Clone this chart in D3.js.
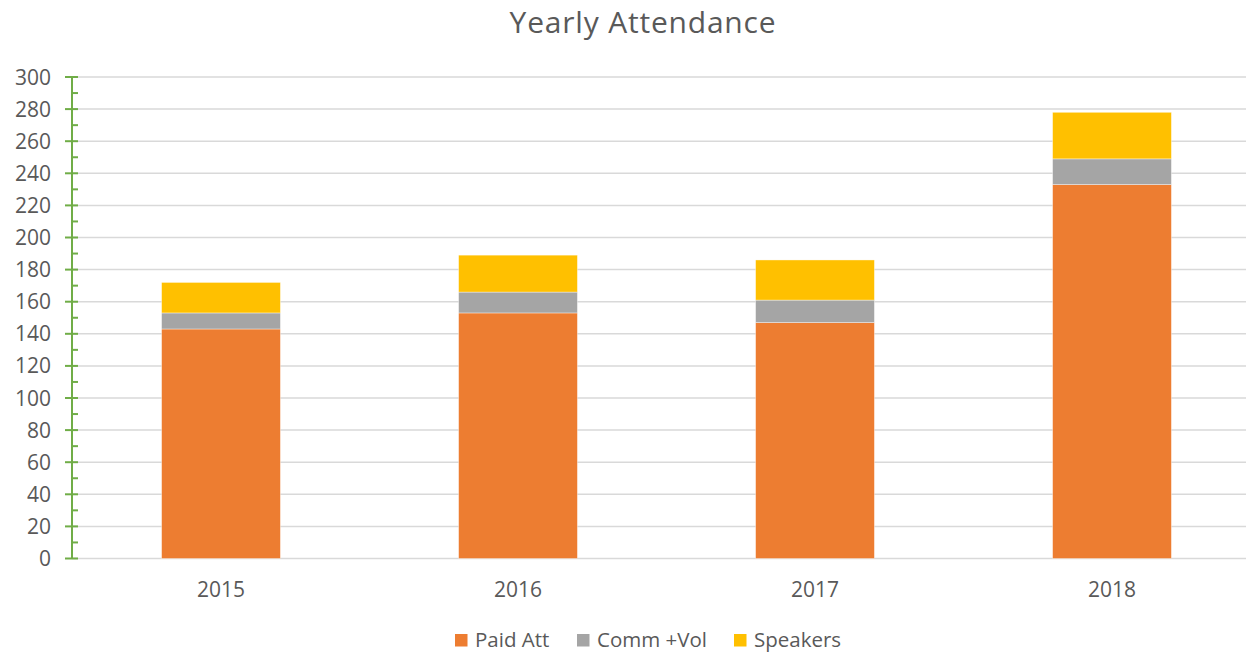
<!DOCTYPE html>
<html>
<head>
<meta charset="utf-8">
<script src="https://cdn.jsdelivr.net/npm/d3@7"></script>
<style>
  body { margin: 0; background: #fff; }
  svg { display: block; font-family: "Open Sans", "Noto Sans", sans-serif; }
</style>
</head>
<body>
<div id="chart"></div>
<script>
const years = ["2015", "2016", "2017", "2018"];
const paidAtt = [143, 153, 147, 233];
const commVol = [10, 13, 14, 16];
const speakers = [19, 23, 25, 29];

const seriesNames = ["Paid Att", "Comm +Vol", "Speakers"];
const seriesColors = ["#ED7D31", "#A5A5A5", "#FFC000"];
const yTicks = d3.range(0, 301, 20);

const W = 1246, H = 653;
const svg = d3.select("#chart").append("svg")
  .attr("width", W).attr("height", H);

// rows for the stack
const rows = years.map((y, i) => ({
  year: y,
  "Paid Att": paidAtt[i],
  "Comm +Vol": commVol[i],
  "Speakers": speakers[i]
}));
const stacked = d3.stack().keys(seriesNames)(rows);

const x = d3.scaleBand()
  .domain(years)
  .range([72.5, 1260.5])
  .paddingInner(0.6)
  .paddingOuter(0.3);

const y = d3.scaleLinear().domain([0, 300]).range([558.5, 77]);

const color = d3.scaleOrdinal().domain(seriesNames).range(seriesColors);

// title
svg.append("text")
  .attr("x", 643).attr("y", 33)
  .attr("text-anchor", "middle")
  .attr("fill", "#595959")
  .style("font-size", "30px")
  .style("letter-spacing", "0.8px")
  .text("Yearly Attendance");

// gridlines
svg.append("g")
  .selectAll("line")
  .data(yTicks)
  .join("line")
  .attr("x1", 72).attr("x2", W)
  .attr("y1", d => y(d)).attr("y2", d => y(d))
  .attr("stroke", "#d9d9d9")
  .attr("stroke-width", 1.5);

// bars
svg.append("g")
  .selectAll("g")
  .data(stacked)
  .join("g")
  .attr("fill", d => color(d.key))
  .selectAll("rect")
  .data(d => d)
  .join("rect")
  .attr("x", d => x(d.data.year))
  .attr("width", x.bandwidth())
  .attr("y", d => y(d[1]))
  .attr("height", d => y(d[0]) - y(d[1]))
  .attr("stroke", "#fff")
  .attr("stroke-opacity", 0.5)
  .attr("stroke-width", 0.75);

// y axis, green with crossing major ticks and inner minor ticks
const axisG = svg.append("g").attr("stroke", "#70AD47").attr("stroke-width", 2);
axisG.append("line")
  .attr("x1", 72).attr("x2", 72)
  .attr("y1", y(300)).attr("y2", y(0));
axisG.selectAll(".major")
  .data(yTicks)
  .join("line")
  .attr("class", "major")
  .attr("x1", 65).attr("x2", 78)
  .attr("y1", d => y(d)).attr("y2", d => y(d));
axisG.selectAll(".minor")
  .data(d3.range(10, 300, 20))
  .join("line")
  .attr("class", "minor")
  .attr("x1", 72).attr("x2", 78)
  .attr("y1", d => y(d)).attr("y2", d => y(d));

svg.append("g")
  .selectAll("text")
  .data(yTicks)
  .join("text")
  .attr("x", 51).attr("y", d => y(d))
  .attr("dy", "0.36em")
  .attr("text-anchor", "end")
  .attr("fill", "#595959")
  .style("font-size", "21px")
  .text(d => d);

// x labels
svg.append("g")
  .selectAll("text")
  .data(years)
  .join("text")
  .attr("x", d => x(d) + x.bandwidth() / 2)
  .attr("y", 597)
  .attr("text-anchor", "middle")
  .attr("fill", "#595959")
  .style("font-size", "21px")
  .text(d => d);

// legend
const legendX = [455, 577, 734];
const legend = svg.append("g")
  .selectAll("g")
  .data(seriesNames)
  .join("g")
  .attr("transform", (d, i) => `translate(${legendX[i]},634)`);
legend.append("rect")
  .attr("width", 12.5).attr("height", 12.5)
  .attr("fill", d => color(d));
legend.append("text")
  .attr("x", 20).attr("y", 12.5)
  .attr("fill", "#595959")
  .style("font-size", "20.5px")
  .text(d => d);
</script>
</body>
</html>
